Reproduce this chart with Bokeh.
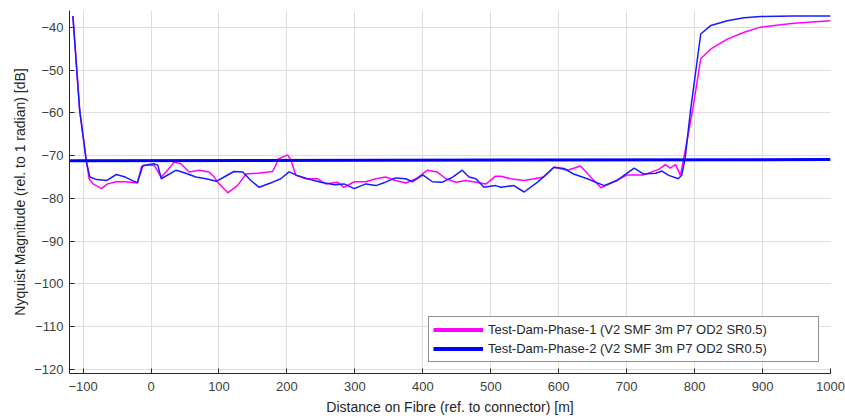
from bokeh.plotting import figure
from bokeh.models import Legend, LegendItem, Range1d, FixedTicker
from bokeh.embed import file_html
from bokeh.resources import INLINE

# ---- data ----
dist_p1 = [-115, -105, -95, -91, -85, -73, -64, -51, -38, -27, -20, -14, -5, 5, 15, 22, 34, 44, 56, 71, 85,
           92, 98, 113, 127, 140, 157, 179, 188, 201, 206, 213, 228, 245, 257, 274, 284, 299, 316, 331, 345,
           360, 375, 390, 407, 421, 434, 449, 463, 478, 493, 507, 515, 529, 549, 564, 578, 593, 613, 632, 647,
           662, 681, 701, 725, 747, 757, 764, 772, 779, 784, 797, 809, 824, 848, 873, 897, 946, 1000]
mag_p1 = [-37.3, -59.4, -71.5, -75.5, -76.6, -77.7, -76.6, -76.1, -76.1, -76.3, -76.4, -72.5, -72.2, -72.3,
          -75.0, -73.8, -71.5, -71.9, -73.8, -73.4, -73.8, -74.8, -76.2, -78.7, -77.0, -74.3, -74.1, -73.7,
          -70.7, -69.8, -71.1, -74.6, -75.4, -75.4, -76.6, -76.2, -77.4, -76.1, -76.1, -75.4, -75.0, -75.8,
          -76.4, -75.4, -73.4, -73.8, -75.4, -76.2, -75.8, -76.2, -76.6, -74.8, -74.8, -75.4, -75.8, -75.4,
          -75.0, -72.7, -73.4, -72.4, -75.0, -77.5, -76.1, -74.5, -74.5, -73.2, -72.1, -72.9, -72.1, -74.6,
          -70.7, -59.4, -47.3, -45.0, -42.7, -41.1, -39.9, -39.0, -38.4]

dist_p2 = [-115, -105, -95, -90, -80, -65, -51, -38, -25, -20, -12, 4, 10, 15, 37, 51, 66, 81, 96, 103, 122,
           135, 147, 159, 179, 191, 203, 215, 230, 250, 270, 284, 299, 316, 331, 345, 360, 375, 385, 400, 414,
           429, 444, 458, 468, 478, 490, 507, 515, 534, 549, 569, 593, 608, 622, 642, 667, 686, 711, 725, 743,
           752, 762, 776, 781, 786, 794, 809, 824, 848, 873, 897, 946, 1000]
mag_p2 = [-37.3, -59.4, -71.5, -75.0, -75.6, -75.8, -74.4, -75.0, -76.0, -76.3, -72.3, -71.9, -72.2, -75.4,
          -73.4, -74.1, -75.0, -75.4, -76.0, -75.4, -73.7, -73.8, -75.8, -77.4, -76.2, -75.4, -73.8, -74.6,
          -75.4, -76.2, -76.8, -76.6, -77.7, -76.6, -77.0, -76.2, -75.2, -75.4, -76.1, -74.5, -76.1, -76.2,
          -75.0, -73.4, -75.0, -75.4, -77.4, -77.0, -77.4, -77.0, -78.5, -76.2, -72.7, -73.0, -74.3, -75.4,
          -77.0, -75.8, -72.9, -74.3, -74.1, -73.6, -74.6, -75.4, -74.6, -70.7, -59.4, -41.5, -39.5, -38.4,
          -37.7, -37.4, -37.3, -37.3]

level_dist = [-120, 1000]
level_mag = [-71.2, -70.9]

x_ticks = [-100, 0, 100, 200, 300, 400, 500, 600, 700, 800, 900, 1000]
y_ticks = [-120, -110, -100, -90, -80, -70, -60, -50, -40]

label_p1 = "Test-Dam-Phase-1 (V2 SMF 3m P7 OD2 SR0.5)"
label_p2 = "Test-Dam-Phase-2 (V2 SMF 3m P7 OD2 SR0.5)"

FONT = "Liberation Sans"

p = figure(width=845, height=418, output_backend="svg", toolbar_location=None,
           x_range=Range1d(-120, 1000), y_range=Range1d(-121, -36),
           min_border_left=69, min_border_right=15, min_border_top=10, min_border_bottom=45)
p.outline_line_color = None
p.background_fill_color = "white"
p.border_fill_color = "white"

for ax in (p.xaxis[0], p.yaxis[0]):
    ax.axis_line_color = "#262626"
    ax.axis_line_width = 1
    ax.major_tick_in = 5
    ax.major_tick_out = 0
    ax.minor_tick_line_color = None
    ax.major_tick_line_color = "#262626"
    ax.major_label_text_font = FONT
    ax.major_label_text_font_size = "13px"
    ax.major_label_text_color = "#404040"
    ax.axis_label_text_font = FONT
    ax.axis_label_text_font_size = "14px"
    ax.axis_label_text_font_style = "normal"
    ax.axis_label_text_color = "#262626"

p.xaxis.ticker = FixedTicker(ticks=x_ticks)
p.yaxis.ticker = FixedTicker(ticks=y_ticks)
p.xaxis.axis_label = "Distance on Fibre (ref. to connector) [m]"
p.yaxis.axis_label = "Nyquist Magnitude (rel. to 1 radian) [dB]"
p.xaxis.major_label_standoff = 8
p.yaxis.major_label_standoff = 6
p.xaxis.axis_label_standoff = 5
p.yaxis.axis_label_standoff = 3

p.xgrid.grid_line_color = "#dedede"
p.ygrid.grid_line_color = "#dedede"
p.xgrid.ticker = FixedTicker(ticks=x_ticks)
p.ygrid.ticker = FixedTicker(ticks=y_ticks)

p.line(dist_p1, mag_p1, line_color="#ff00ff", line_width=1.5)
p.line(dist_p2, mag_p2, line_color="#1a1aff", line_width=1.5)
p.line(level_dist, level_mag, line_color="#0000ff", line_width=3)

# legend proxies (thick lines as in the reference legend); single point -> nothing drawn in plot
r1 = p.line([level_dist[0]], [level_mag[0]], line_color="#ff00ff", line_width=4)
r2 = p.line([level_dist[0]], [level_mag[0]], line_color="#0000ff", line_width=4)
legend = Legend(items=[LegendItem(label=label_p1, renderers=[r1]),
                       LegendItem(label=label_p2, renderers=[r2])],
                location=(359, 11), orientation="vertical",
                glyph_width=50, glyph_height=17, label_height=17, label_width=326,
                label_standoff=5, padding=4, spacing=2, margin=0,
                label_text_font=FONT, label_text_font_size="13px", label_text_color="#262626",
                border_line_color="#262626", border_line_width=1,
                background_fill_color="white", background_fill_alpha=1)
p.add_layout(legend, "center")

open("out.html", "w").write(file_html(p, INLINE))
